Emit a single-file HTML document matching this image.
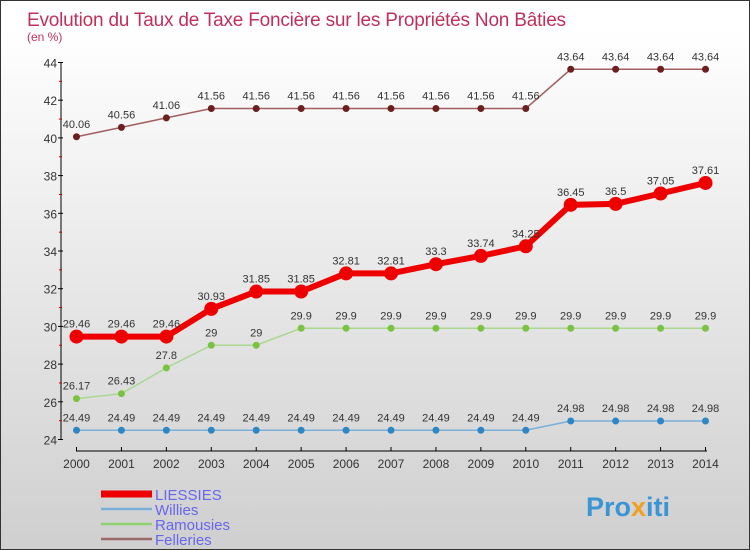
<!DOCTYPE html>
<html><head><meta charset="utf-8"><style>
body{margin:0}
#c{width:750px;height:550px;position:relative;background:linear-gradient(#fff,#fff 5%,#cfcfcf);font-family:"Liberation Sans",sans-serif;box-sizing:border-box;border:1px solid #333;overflow:hidden}
</style></head><body>
<div id="c">
<svg id="s" width="750" height="550" style="position:absolute;left:0;top:0">
<text x="26" y="25" font-size="19" letter-spacing="-0.2" fill="#c0305a">Evolution du Taux de Taxe Foncière sur les Propriétés Non Bâties</text>
<text x="26" y="40" font-size="12" fill="#c0305a">(en %)</text>
<g id="g"></g>
<text x="585" y="515" font-size="27" font-weight="bold" fill="#3a95d4">Pro<tspan fill="#f0a020">x</tspan>iti</text>
</svg>
</div>
<script>
const years=[2000,2001,2002,2003,2004,2005,2006,2007,2008,2009,2010,2011,2012,2013,2014];
const yTicks=[24,26,28,30,32,34,36,38,40,42,44];
const liessies=[29.46,29.46,29.46,30.93,31.85,31.85,32.81,32.81,33.3,33.74,34.25,36.45,36.5,37.05,37.61];
const willies=[24.49,24.49,24.49,24.49,24.49,24.49,24.49,24.49,24.49,24.49,24.49,24.98,24.98,24.98,24.98];
const ramousies=[26.17,26.43,27.8,29,29,29.9,29.9,29.9,29.9,29.9,29.9,29.9,29.9,29.9,29.9];
const felleries=[40.06,40.56,41.06,41.56,41.56,41.56,41.56,41.56,41.56,41.56,41.56,43.64,43.64,43.64,43.64];
const series=[
 {name:"Felleries",d:felleries,c:"#6b1f1f",lc:"#a06060",w:1.5,r:3.5,ll:"#9b6a6a"},
 {name:"Ramousies",d:ramousies,c:"#7cc242",lc:"#a8d890",w:1.5,r:3.5,ll:"#8fd070"},
 {name:"Willies",d:willies,c:"#2f86c4",lc:"#7ab0d8",w:1.5,r:3.5,ll:"#7ab0d8"},
 {name:"LIESSIES",d:liessies,c:"#ee0000",lc:"#ee0000",w:6,r:7,ll:"#ee0000"}];
const X=i=>75.5+i*44.93, Y=v=>438.5-(v-24)*18.85;
const g=document.getElementById('g'),NS="http://www.w3.org/2000/svg";
function mk(t,a,p){const e=document.createElementNS(NS,t);for(const k in a)e.setAttribute(k,a[k]);(p||g).appendChild(e);return e;}
let e=mk('line',{x1:60,y1:Y(44),x2:60,y2:Y(24),stroke:'#000'});

e=mk('line',{x1:75,y1:450,x2:706,y2:450,stroke:'#000'});

yTicks.forEach(v=>{mk('line',{x1:57,y1:Y(v),x2:62,y2:Y(v),stroke:'#000'});
 if(v<44)mk('line',{x1:58,y1:Y(v+1),x2:61,y2:Y(v+1),stroke:'#c00'});
 e=mk('text',{x:56,y:Y(v)+5,'font-size':12,fill:'#333','text-anchor':'end'});e.textContent=v;
 });
years.forEach((y,i)=>{mk('line',{x1:X(i),y1:446,x2:X(i),y2:450,stroke:'#000'});
 e=mk('text',{x:X(i),y:467,'font-size':12,fill:'#333','text-anchor':'middle'});e.textContent=y;
 });
series.forEach(s=>{
 e=mk('polyline',{points:s.d.map((v,i)=>X(i)+','+Y(v)).join(' '),fill:'none',stroke:s.lc,'stroke-width':s.w});
 
 s.d.forEach((v,i)=>{e=mk('circle',{cx:X(i),cy:Y(v),r:s.r,fill:s.c});
  
  e=mk('text',{x:X(i),y:Y(v)-9,'font-size':11,fill:'#333','text-anchor':'middle'});e.textContent=v;
  });
});
[...series].reverse().forEach((s,k)=>{const y=493+k*15;
 e=mk('line',{x1:100,y1:y,x2:151,y2:y,stroke:s.ll,'stroke-width':s.name=="LIESSIES"?7:2.5});
 
 e=mk('text',{x:154,y:y+6,'font-size':15,fill:'#6666ee'});e.textContent=s.name;
 });
</script>
</body></html>
